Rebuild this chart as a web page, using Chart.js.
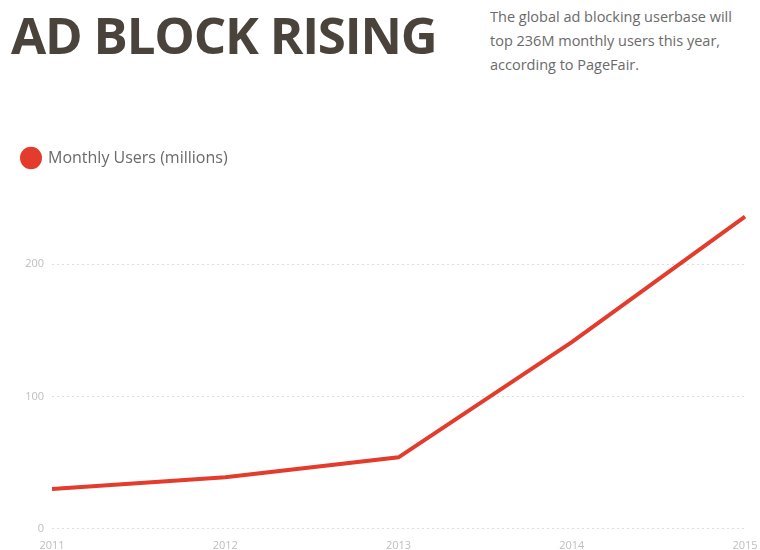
<!DOCTYPE html>
<html>
<head>
<meta charset="utf-8">
<title>Ad Block Rising</title>
<script src="https://cdn.jsdelivr.net/npm/chart.js@4.4.1/dist/chart.umd.min.js"></script>
<style>
  html, body {
    margin: 0;
    padding: 0;
    background: #fff;
    width: 760px;
    height: 550px;
    overflow: hidden;
    font-family: "Open Sans", sans-serif;
  }
  #title {
    position: absolute;
    left: 11px;
    top: 4px;
    margin: 0;
    font-size: 51px;
    font-weight: 700;
    line-height: 1.2;
    color: #4a433b;
    letter-spacing: -1.2px;
  }
  #subtitle {
    position: absolute;
    left: 490px;
    top: 5px;
    margin: 0;
    font-size: 14.5px;
    line-height: 24px;
    color: #6a6a6a;
  }
  #chart-box {
    position: absolute;
    left: 0;
    top: 120px;
  }
</style>
</head>
<body>
<h1 id="title">AD BLOCK RISING</h1>
<p id="subtitle">The global ad blocking userbase will<br>top 236M monthly users this year,<br>according to PageFair.</p>
<div id="chart-box"><canvas id="users-chart" width="760" height="434"></canvas></div>

<script>
const years = ["2011", "2012", "2013", "2014", "2015"];
const monthlyUsers = [30, 39, 54, 141, 236];
const seriesLabel = "Monthly Users (millions)";
const yTicks = [0, 100, 200];

// leave some room between the legend and the plot
const legendGap = {
  id: "legendGap",
  beforeInit(chart) {
    const fit = chart.legend.fit;
    chart.legend.fit = function () {
      fit.bind(chart.legend)();
      this.height += 22;
    };
  },
};

document.addEventListener("DOMContentLoaded", () => {
  const canvas = document.getElementById("users-chart");

  new Chart(canvas, {
    type: "line",
    data: {
      labels: years,
      datasets: [
        {
          label: seriesLabel,
          data: monthlyUsers,
          borderColor: "#e33b2c",
          backgroundColor: "#e33b2c",
          borderWidth: 4,
          pointRadius: 0,
          pointHoverRadius: 0,
          tension: 0,
          fill: false,
        },
      ],
    },
    options: {
      responsive: false,
      animation: false,
      layout: {
        padding: { top: 20, left: 12, right: 15, bottom: 0 },
      },
      plugins: {
        legend: {
          display: true,
          position: "top",
          align: "start",
          labels: {
            usePointStyle: true,
            pointStyle: "circle",
            pointStyleWidth: 18,
            boxHeight: 13,
            padding: 10,
            color: "#6a6a6a",
            font: { family: "Open Sans", size: 16 },
          },
        },
        tooltip: { enabled: false },
      },
      scales: {
        x: {
          offset: false,
          grid: { display: false },
          border: { display: false },
          ticks: {
            color: "#bdbdbd",
            padding: 2,
            maxRotation: 0,
            font: { family: "Open Sans", size: 11 },
          },
        },
        y: {
          min: 0,
          max: 250,
          afterBuildTicks: (scale) => {
            scale.ticks = yTicks.map((v) => ({ value: v }));
          },
          afterFit: (scale) => {
            scale.width = 40;
          },
          grid: {
            color: "#dedede",
            lineWidth: 1,
            drawTicks: false,
          },
          border: { display: false, dash: [2, 3] },
          ticks: {
            color: "#bdbdbd",
            padding: 8,
            font: { family: "Open Sans", size: 11 },
          },
        },
      },
    },
    plugins: [legendGap],
  });
});
</script>
</body>
</html>
